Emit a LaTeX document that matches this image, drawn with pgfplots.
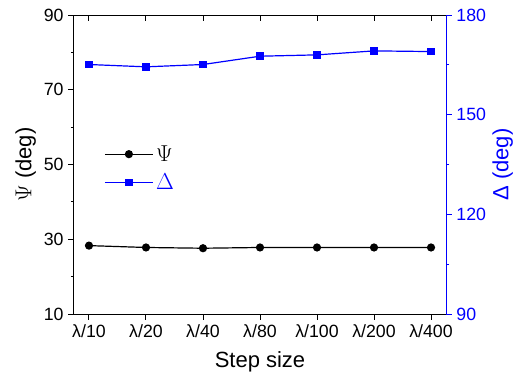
\documentclass[border=0pt]{standalone}
\usepackage{pgfplots}
\pgfplotsset{compat=1.18}
\usepackage{fontspec}
\setmainfont{Liberation Sans}
\definecolor{pblue}{RGB}{0,0,255}
\newcommand{\fs}{\fontsize{13.3}{16}\selectfont}
\newcommand{\fl}{\fontsize{16.5}{19}\selectfont}
\begin{document}
\begin{tikzpicture}[x=0.75pt,y=0.75pt]
\useasboundingbox (-74,-66) rectangle (442,314);
\begin{axis}[
  at={(0,0)}, anchor=south west,
  scale only axis, width=279pt, height=224.25pt,
  xmin=-0.263, xmax=6.263, ymin=10, ymax=90,
  axis x line*=bottom, axis y line*=left,
  xtick={0,...,6},
  xticklabels={λ/10,λ/20,λ/40,λ/80,λ/100,λ/200,λ/400},
  ytick={10,30,50,70,90}, minor y tick num=1,
  tick align=outside,
  major tick length=4.3pt, minor tick length=2.4pt,
  tick style={black, line width=0.75pt},
  axis line style={line width=0.75pt},
  /pgf/number format/assume math mode=true,
  ticklabel style={font=\fs},
  xlabel={\fl Step size}, ylabel={\fl $\Psi$ (deg)},
  xlabel style={yshift=-4pt},
  ylabel style={yshift=-1pt},
  legend style={draw=none, fill=none, at={(0.07,0.583)}, anchor=north west, font=\fl, row sep=4pt},
  legend cell align=left,
  legend image code/.code={\draw[mark repeat=2,mark phase=2] plot coordinates {(0pt,0pt) (18pt,0pt) (36pt,0pt)};},
]
\addplot[black, line width=0.9pt, mark=*, mark size=2.6pt] coordinates {
 (0,28.3) (1,27.8) (2,27.6) (3,27.8) (4,27.8) (5,27.8) (6,27.8)};
\addlegendentry{\fl $\Psi$}
\addlegendimage{pblue, line width=0.9pt, mark=square*, mark size=2.4pt}
\addlegendentry{\fl\textcolor{pblue}{$\Delta$}}
\end{axis}
\begin{axis}[
  at={(0,0)}, anchor=south west,
  scale only axis, width=279pt, height=224.25pt,
  xmin=-0.263, xmax=6.263, ymin=90, ymax=180,
  axis x line*=top, axis y line*=right,
  xtick={0,...,6}, xticklabels={},
  xtick align=inside, ytick align=outside,
  ytick={90,120,150,180}, minor y tick num=1,
  major tick length=4.3pt, minor tick length=2.4pt,
  x tick style={black, line width=0.75pt},
  y tick style={pblue, line width=0.75pt},
  x axis line style={black, line width=0.75pt},
  y axis line style={pblue, line width=0.75pt},
  yticklabel style={pblue, font=\fs},
  /pgf/number format/assume math mode=true,
  ylabel={\fl Δ (deg)},
  ylabel style={pblue, yshift=2pt},
]
\addplot[pblue, line width=0.9pt, mark=square*, mark size=2.4pt] coordinates {
 (0,165.1) (1,164.4) (2,165.1) (3,167.6) (4,168.0) (5,169.2) (6,169.0)};
\end{axis}
\end{tikzpicture}
\end{document}
